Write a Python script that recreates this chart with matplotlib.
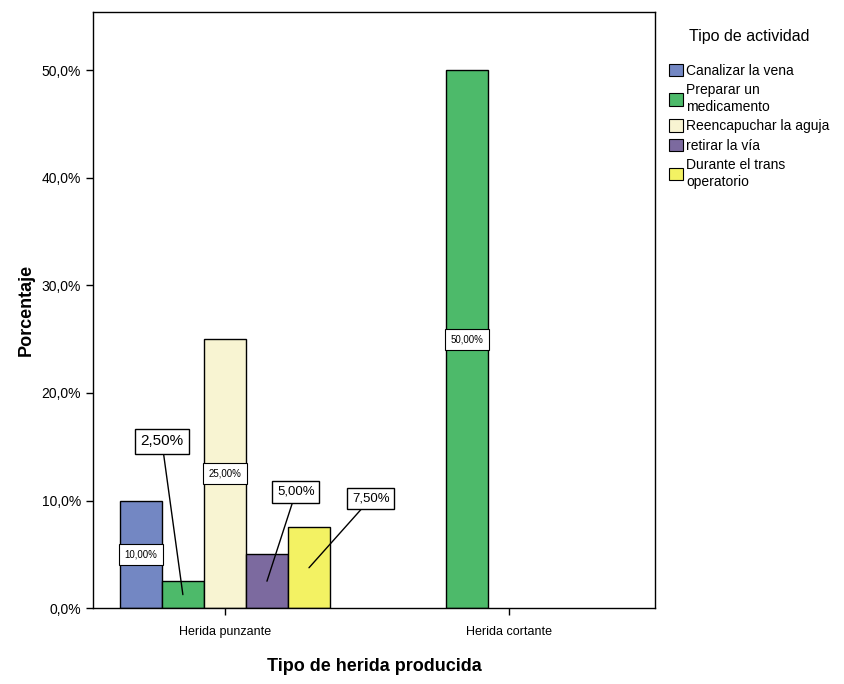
import matplotlib
matplotlib.use("Agg")
import matplotlib.pyplot as plt
from matplotlib.patches import Patch
from matplotlib.ticker import FuncFormatter

plt.rcParams['font.family'] = ['Liberation Sans', 'DejaVu Sans']

heridas = ["Herida punzante", "Herida cortante"]
actividades = ["Canalizar la vena", "Preparar un\nmedicamento",
               "Reencapuchar la aguja", "retirar la vía",
               "Durante el trans\noperatorio"]
colores = ["#7387c3", "#4dba6a", "#f8f4d2", "#7c6a9f", "#f3f263"]
# porcentaje por actividad en cada tipo de herida
valores = [
    [10.0, 2.5, 25.0, 5.0, 7.5],   # Herida punzante
    [0.0, 50.0, 0.0, 0.0, 0.0],    # Herida cortante
]
yticks = [0, 10, 20, 30, 40, 50]

fig = plt.figure(figsize=(8.44, 6.84), dpi=100)
ax = fig.add_axes([0.110, 0.111, 0.666, 0.871])

ancho = 0.148
n = len(actividades)
bar_pos = {}
for gi, grupo in enumerate(valores):
    for ai, v in enumerate(grupo):
        x = gi + (ai - (n - 1) / 2) * ancho
        bar_pos[(gi, ai)] = x
        if v > 0:
            ax.bar(x, v, width=ancho, color=colores[ai], edgecolor="black",
                   linewidth=1.0, zorder=2)

# etiquetas dentro de las barras altas
inner = [(0, 0), (0, 2), (1, 1)]
for gi, ai in inner:
    v = valores[gi][ai]
    ax.text(bar_pos[(gi, ai)], v / 2, f"{v:.2f}%".replace(".", ","),
            ha="center", va="center", fontsize=7, zorder=4,
            bbox=dict(boxstyle="square,pad=0.55", fc="white", ec="black", lw=0.8))

# etiquetas con línea guía
callouts = {(0, 1): (-0.222, 15.5, 11), (0, 3): (0.25, 10.8, 9.5),
            (0, 4): (0.514, 10.2, 9.5)}
for (gi, ai), (tx, ty, fs) in callouts.items():
    v = valores[gi][ai]
    ax.annotate(f"{v:.2f}%".replace(".", ","), xy=(bar_pos[(gi, ai)], v / 2),
                xytext=(tx, ty), ha="center", va="center", fontsize=fs, zorder=5,
                bbox=dict(boxstyle="square,pad=0.35", fc="white", ec="black", lw=1.0),
                arrowprops=dict(arrowstyle="-", color="black", lw=1.0,
                                shrinkA=0, shrinkB=0))

ax.set_xlim(-0.465, 1.514)
ax.set_ylim(0, 55.4)
ax.set_xticks(range(len(heridas)))
ax.set_xticklabels(heridas, fontsize=9)
ax.set_yticks(yticks)
ax.yaxis.set_major_formatter(FuncFormatter(lambda v, p: f"{v:.1f}%".replace(".", ",")))
ax.tick_params(axis="y", labelsize=10, length=5, width=1)
ax.tick_params(axis="x", length=5, width=1, pad=8)
for s in ax.spines.values():
    s.set_linewidth(1.0)

ax.set_xlabel("Tipo de herida producida", fontsize=13, fontweight="bold", labelpad=14)
ax.set_ylabel("Porcentaje", fontsize=13, fontweight="bold", labelpad=5)

handles = [Patch(facecolor=c, edgecolor="black", lw=0.8) for c in colores]
leg = fig.legend(handles, actividades, title="Tipo de actividad",
                 loc="upper left", bbox_to_anchor=(0.786, 0.965),
                 frameon=False, fontsize=10, title_fontsize=11.5,
                 handlelength=1.0, handleheight=1.0, handletextpad=0.25,
                 labelspacing=0.4, borderaxespad=0)
leg._legend_box.sep = 14

fig.savefig("out.png", dpi=100)
